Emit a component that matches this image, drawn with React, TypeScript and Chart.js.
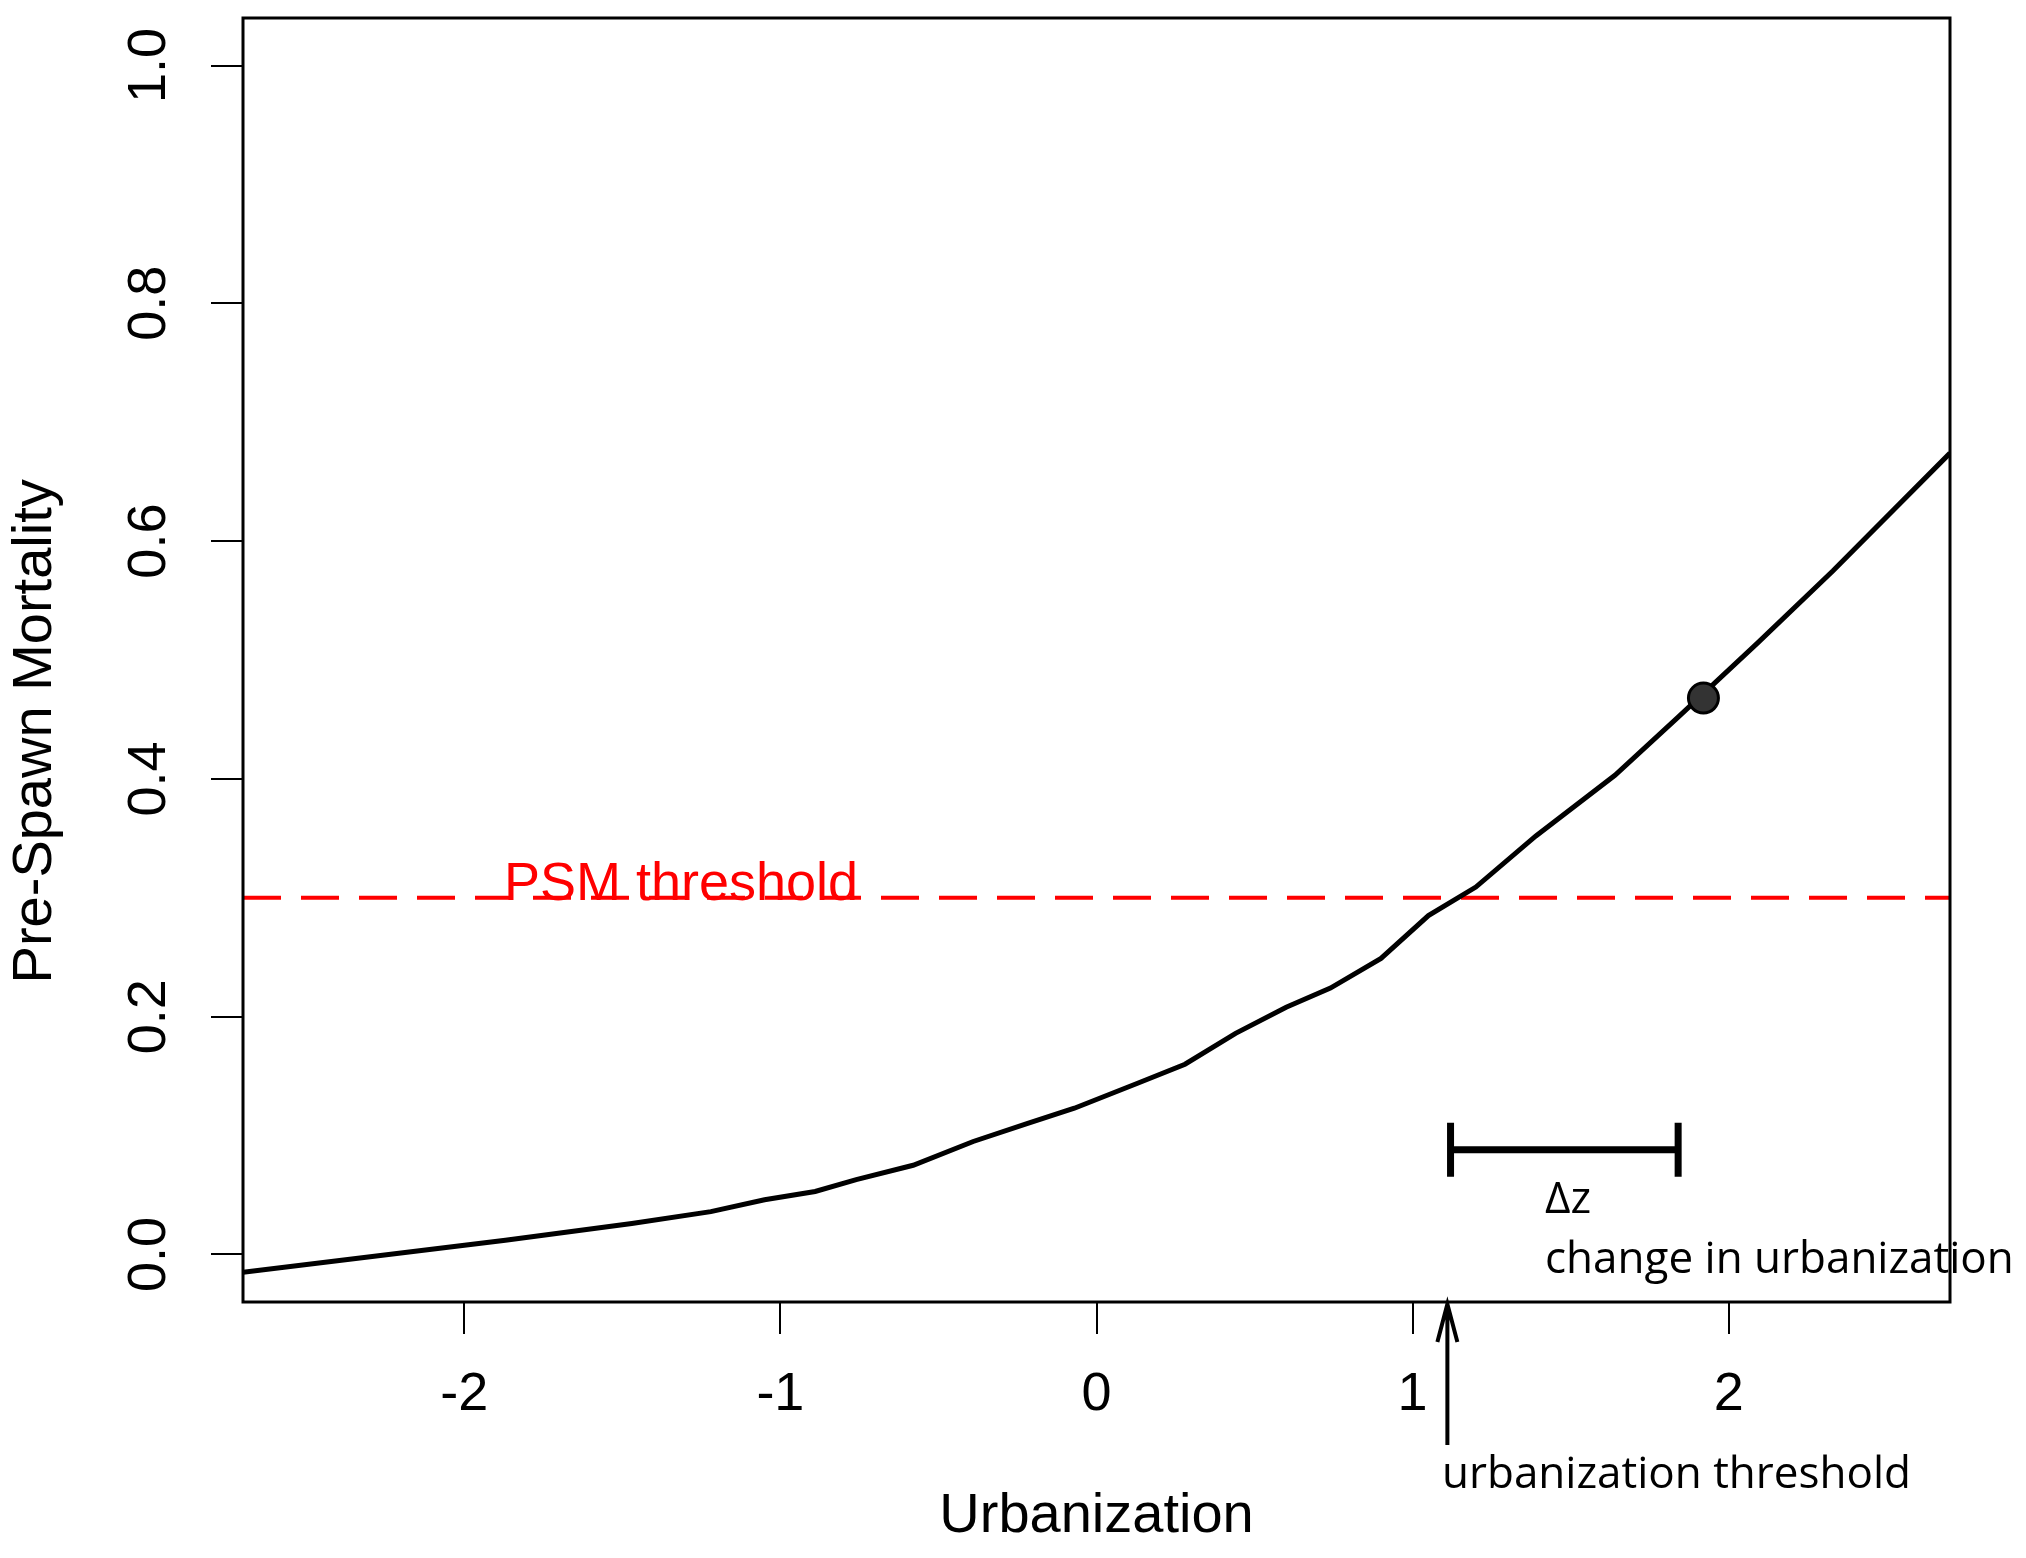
import React, { useEffect, useRef } from "react";
import { Chart, registerables } from "chart.js";
Chart.register(...registerables);

const curveX = [-2.70, -1.87, -1.47, -1.22, -1.05, -0.89, -0.76, -0.58, -0.39, -0.22, -0.07, 0.13, 0.28, 0.44, 0.60, 0.74, 0.90, 1.05, 1.20, 1.39, 1.64, 1.84, 2.09, 2.33, 2.70];
const curveY = [-0.015, 0.012, 0.026, 0.036, 0.046, 0.053, 0.063, 0.075, 0.095, 0.110, 0.123, 0.144, 0.160, 0.186, 0.208, 0.224, 0.249, 0.285, 0.309, 0.352, 0.403, 0.452, 0.514, 0.575, 0.674];
const markX = [1.92];
const markY = [0.468];
const psmThreshold = 0.3;
const urbThreshold = 1.11;
const deltaRange = [1.12, 1.84];
const deltaY = 0.088;
const xTicks = [-2, -1, 0, 1, 2];
const yTicks = [0, 0.2, 0.4, 0.6, 0.8, 1.0];
const yTickLabels = ["0.0", "0.2", "0.4", "0.6", "0.8", "1.0"];

const SANS = "'Liberation Sans', Arial, sans-serif";
const OPEN = "'Open Sans', sans-serif";

export default function App() {
  const ref = useRef<HTMLCanvasElement>(null);
  useEffect(() => {
    const deco = {
      id: "deco",
      afterDraw(c: any) {
        const ctx = c.ctx;
        const a = c.chartArea;
        const xs = c.scales.x, ys = c.scales.y;
        ctx.save();
        ctx.strokeStyle = "#000";
        ctx.lineWidth = 3;
        ctx.strokeRect(a.left, a.top, a.right - a.left, a.bottom - a.top);
        // y tick labels rotated
        ctx.fillStyle = "#000";
        ctx.font = `54px ${SANS}`;
        ctx.textAlign = "center";
        ctx.textBaseline = "middle";
        yTicks.forEach((v, i) => {
          ctx.save();
          ctx.translate(150, ys.getPixelForValue(v));
          ctx.rotate(-Math.PI / 2);
          ctx.fillText(yTickLabels[i], 0, 0);
          ctx.restore();
        });
        xTicks.forEach((v) => ctx.fillText(String(v), xs.getPixelForValue(v), 1395));
        ctx.font = `56px ${SANS}`;
        ctx.fillText("Urbanization", xs.getPixelForValue(0), 1517);
        ctx.save();
        ctx.translate(36, ys.getPixelForValue(0.44));
        ctx.rotate(-Math.PI / 2);
        ctx.fillText("Pre-Spawn Mortality", 0, 0);
        ctx.restore();
        // PSM label
        ctx.fillStyle = "#ff0000";
        ctx.font = `54px ${SANS}`;
        ctx.textBaseline = "alphabetic";
        ctx.fillText("PSM threshold", 681, ys.getPixelForValue(psmThreshold) + 2);
        // delta bar
        ctx.strokeStyle = "#000";
        ctx.lineWidth = 7;
        const y0 = ys.getPixelForValue(deltaY);
        const x1 = xs.getPixelForValue(deltaRange[0]), x2 = xs.getPixelForValue(deltaRange[1]);
        ctx.beginPath();
        ctx.moveTo(x1, y0); ctx.lineTo(x2, y0);
        ctx.moveTo(x1, y0 - 27); ctx.lineTo(x1, y0 + 27);
        ctx.moveTo(x2, y0 - 27); ctx.lineTo(x2, y0 + 27);
        ctx.stroke();
        // arrow
        const ax = xs.getPixelForValue(urbThreshold);
        ctx.lineWidth = 4;
        ctx.beginPath();
        ctx.moveTo(ax, 1445); ctx.lineTo(ax, a.bottom + 2);
        ctx.moveTo(ax - 10, a.bottom + 40); ctx.lineTo(ax, a.bottom + 2); ctx.lineTo(ax + 10, a.bottom + 40);
        ctx.stroke();
        ctx.fillStyle = "#000";
        ctx.font = `44px ${OPEN}`;
        ctx.textAlign = "left";
        ctx.textBaseline = "middle";
        ctx.fillText("Δz", 1545, 1200);
        ctx.fillText("change in urbanization", 1545, 1260);
        ctx.fillText("urbanization threshold", 1442, 1475);
        ctx.restore();
      },
    };
    const chart = new Chart(ref.current!, {
      type: "scatter",
      data: {
        datasets: [
          {
            data: markX.map((x, i) => ({ x, y: markY[i] })),
            pointRadius: 15,
            pointBackgroundColor: "#333333",
            pointBorderColor: "#000",
            pointBorderWidth: 3,
          },
          {
            type: "line",
            data: curveX.map((x, i) => ({ x, y: curveY[i] })),
            borderColor: "#000",
            borderWidth: 5,
            pointRadius: 0,
            tension: 0,
          },
          {
            type: "line",
            data: [{ x: -2.7, y: psmThreshold }, { x: 2.7, y: psmThreshold }],
            borderColor: "#ff0000",
            borderWidth: 4,
            borderDash: [38, 20],
            pointRadius: 0,
          },
        ],
      },
      options: {
        responsive: false,
        animation: false,
        plugins: { legend: { display: false }, tooltip: { enabled: false } },
        layout: { padding: { top: 2, right: 76, left: 0, bottom: 0 } },
        scales: {
          x: {
            type: "linear", min: -2.7, max: 2.7,
            afterBuildTicks: (s: any) => { s.ticks = xTicks.map((v) => ({ value: v })); },
            afterFit: (s: any) => { s.height = 256; },
            ticks: { color: "transparent" },
            grid: { drawOnChartArea: false, drawTicks: true, tickLength: 32, color: "#000", lineWidth: 2 },
            border: { display: false },
          },
          y: {
            type: "linear", min: -0.04, max: 1.04,
            afterBuildTicks: (s: any) => { s.ticks = yTicks.map((v) => ({ value: v })); },
            afterFit: (s: any) => { s.width = 243; },
            ticks: { color: "transparent" },
            grid: { drawOnChartArea: false, drawTicks: true, tickLength: 32, color: "#000", lineWidth: 2 },
            border: { display: false },
          },
        },
      },
      plugins: [deco],
    });
    return () => chart.destroy();
  }, []);
  return (
    <div style={{ position: "absolute", left: 0, top: 0, background: "#fff" }}>
      <canvas ref={ref} width={2026} height={1558} style={{ width: 2026, height: 1558 }} />
    </div>
  );
}
